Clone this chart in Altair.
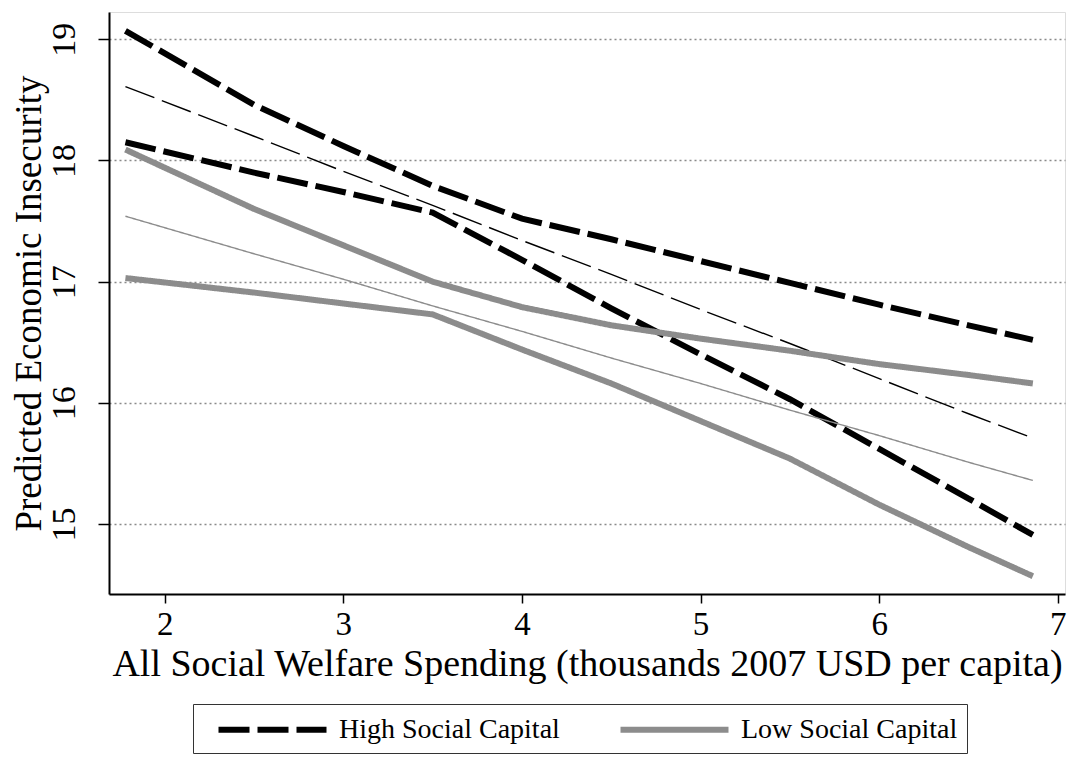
import altair as alt
import pandas as pd

# x positions (thousands 2007 USD per capita)
spending = [1.78, 2.5, 3.0, 3.5, 4.0, 4.5, 5.0, 5.5, 6.0, 6.5, 6.86]

# High social capital: upper bound, prediction, lower bound
hi_upper = [19.07, 18.46, 18.12, 17.79, 17.52, 17.35, 17.17, 16.99, 16.81, 16.64, 16.52]
hi_mid = [18.61, 18.20, 17.91, 17.63, 17.34, 17.06, 16.77, 16.49, 16.20, 15.91, 15.71]
hi_lower = [18.15, 17.90, 17.74, 17.57, 17.18, 16.78, 16.40, 16.03, 15.62, 15.21, 14.91]

# Low social capital: upper bound, prediction, lower bound
lo_upper = [18.09, 17.60, 17.30, 17.00, 16.79, 16.64, 16.53, 16.43, 16.32, 16.23, 16.16]
lo_mid = [17.54, 17.23, 17.02, 16.80, 16.59, 16.37, 16.16, 15.94, 15.73, 15.51, 15.36]
lo_lower = [17.03, 16.91, 16.82, 16.73, 16.44, 16.16, 15.85, 15.54, 15.16, 14.81, 14.57]

groups = ["High Social Capital", "Low Social Capital"]
y_ticks = [15, 16, 17, 18, 19]
x_ticks = [2, 3, 4, 5, 6, 7]

series = [
    ("hi_upper", groups[0], "bound", hi_upper),
    ("hi_mid", groups[0], "mid", hi_mid),
    ("hi_lower", groups[0], "bound", hi_lower),
    ("lo_upper", groups[1], "bound", lo_upper),
    ("lo_mid", groups[1], "mid", lo_mid),
    ("lo_lower", groups[1], "bound", lo_lower),
]
rows = []
for name, grp, kind, vals in series:
    for x, y in zip(spending, vals):
        rows.append({"line": name, "group": grp, "kind": kind, "x": x, "y": y})
df = pd.DataFrame(rows)

FONT = "Liberation Serif"

legend_kw = dict(title=None, orient="none", legendX=84, legendY=692,
                 direction="horizontal", columns=2, columnPadding=44,
                 strokeColor="#333333", padding=9, labelLimit=0,
                 symbolType="M0,0H8", symbolSize=729, symbolStrokeWidth=6,
                 labelFont=FONT, labelFontSize=28, labelOffset=104,
                 labelColor="black", symbolOpacity=1)

lines = alt.Chart(df).mark_line(strokeCap="butt").encode(
    x=alt.X("x:Q",
            scale=alt.Scale(domain=[1.688, 7.04], nice=False, zero=False),
            axis=alt.Axis(values=x_ticks, title="All Social Welfare Spending (thousands 2007 USD per capita)",
                          grid=False, tickSize=9, tickWidth=1.5, domainWidth=2, domainColor="black",
                          tickColor="black", labelFontSize=33, labelPadding=5, labelFont=FONT,
                          titleFont=FONT, titleFontSize=38, titleFontWeight="normal", titlePadding=4,
                          labelColor="black", titleColor="black")),
    y=alt.Y("y:Q",
            scale=alt.Scale(domain=[14.423, 19.225], nice=False, zero=False),
            axis=alt.Axis(values=y_ticks, title="Predicted Economic Insecurity",
                          grid=True, gridDash=[2, 3], gridColor="#8a8a8a", gridWidth=1.3,
                          tickSize=11, tickWidth=1.5, domainWidth=2, domainColor="black",
                          tickColor="black", labelFontSize=34, labelFont=FONT, labelAngle=270,
                          labelAlign="center", labelBaseline="bottom", labelPadding=17,
                          titleFont=FONT, titleFontSize=37, titleFontWeight="normal",
                          titleAngle=270, titleX=-80, titleY=291, titleAlign="center",
                          titleBaseline="middle",
                          labelColor="black", titleColor="black")),
    color=alt.Color("group:N", scale=alt.Scale(domain=groups, range=["#000000", "#8c8c8c"]),
                    legend=alt.Legend(**legend_kw)),
    strokeDash=alt.StrokeDash("group:N", scale=alt.Scale(domain=groups, range=[[31, 8], [1, 0]]),
                              legend=alt.Legend(**legend_kw)),
    strokeWidth=alt.StrokeWidth("kind:N", scale=alt.Scale(domain=["bound", "mid"], range=[6, 1.4]),
                                legend=None),
    detail="line:N",
)

chart = lines.properties(
    width=956, height=582,
    autosize=alt.AutoSizeParams(type="none"),
    padding={"left": 101, "top": 4, "right": 2, "bottom": 163},
).configure_view(stroke=None).configure(background="white")

chart.save("out.html", embed_options={"renderer": "svg", "actions": False})
